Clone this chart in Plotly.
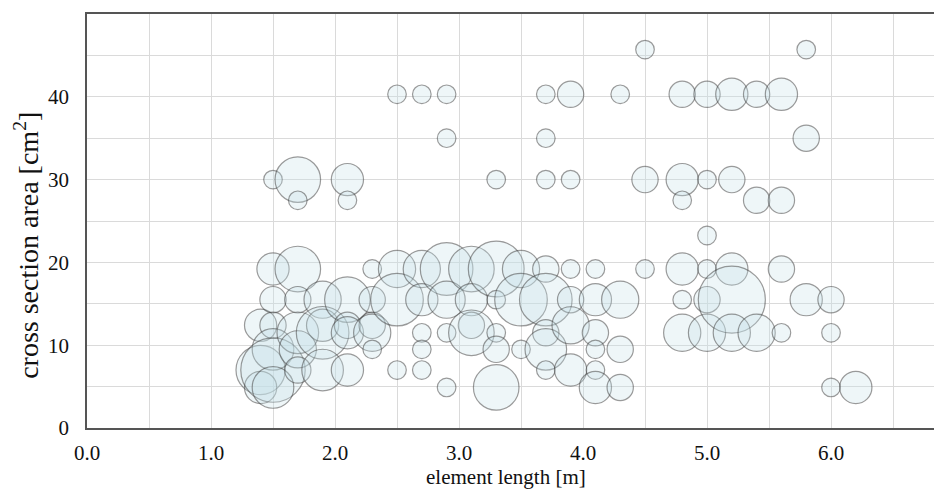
import plotly.graph_objects as go

# element length [m]
length = [
    1.4, 1.4, 1.4,
    1.5, 1.5, 1.5, 1.5, 1.5, 1.5, 1.5,
    1.7, 1.7, 1.7, 1.7, 1.7, 1.7, 1.7,
    1.9, 1.9, 1.9, 1.9,
    2.1, 2.1, 2.1, 2.1, 2.1, 2.1,
    2.3, 2.3, 2.3, 2.3, 2.3,
    2.5, 2.5, 2.5, 2.5,
    2.7, 2.7, 2.7, 2.7, 2.7, 2.7,
    2.9, 2.9, 2.9, 2.9, 2.9, 2.9,
    3.1, 3.1, 3.1, 3.1,
    3.3, 3.3, 3.3, 3.3, 3.3, 3.3,
    3.5, 3.5, 3.5,
    3.7, 3.7, 3.7, 3.7, 3.7, 3.7, 3.7, 3.7,
    3.9, 3.9, 3.9, 3.9, 3.9, 3.9,
    4.1, 4.1, 4.1, 4.1, 4.1, 4.1,
    4.3, 4.3, 4.3, 4.3,
    4.5, 4.5, 4.5,
    4.8, 4.8, 4.8, 4.8, 4.8, 4.8,
    5.0, 5.0, 5.0, 5.0, 5.0, 5.0,
    5.2, 5.2, 5.2, 5.2, 5.2,
    5.4, 5.4, 5.4,
    5.6, 5.6, 5.6, 5.6,
    5.8, 5.8, 5.8,
    6.0, 6.0, 6.0,
    6.2,
]

# cross section area [cm2]
area = [
    12.4, 7.0, 4.9,
    30.0, 19.2, 15.5, 12.4, 9.5, 7.0, 4.9,
    30.0, 27.5, 19.2, 15.5, 11.5, 9.5, 7.0,
    15.5, 12.4, 11.5, 7.0,
    30.0, 27.5, 15.5, 12.4, 11.5, 7.0,
    19.2, 15.5, 12.4, 11.5, 9.5,
    40.3, 19.2, 15.5, 7.0,
    40.3, 19.2, 15.5, 11.5, 9.5, 7.0,
    40.3, 35.0, 19.2, 15.5, 11.5, 4.9,
    19.2, 15.5, 12.4, 11.5,
    30.0, 19.2, 15.5, 11.5, 9.5, 4.9,
    19.2, 15.5, 9.5,
    40.3, 35.0, 30.0, 19.2, 15.5, 11.5, 9.5, 7.0,
    40.3, 30.0, 19.2, 15.5, 12.4, 7.0,
    19.2, 15.5, 11.5, 9.5, 7.0, 4.9,
    40.3, 15.5, 9.5, 4.9,
    45.7, 30.0, 19.2,
    40.3, 30.0, 27.5, 19.2, 15.5, 11.5,
    40.3, 30.0, 23.25, 19.2, 15.5, 11.5,
    40.3, 30.0, 19.2, 15.5, 11.5,
    40.3, 27.5, 11.5,
    40.3, 27.5, 19.2, 11.5,
    45.7, 35.0, 15.5,
    15.5, 11.5, 4.9,
    4.9,
]

# number of elements (bubble size)
count = [
    3, 7, 3,
    1, 3, 2, 2, 5, 12, 5,
    6, 1, 6, 2, 5, 4, 2,
    4, 3, 8, 5,
    3, 1, 6, 2, 3, 3,
    1, 2, 2, 4, 1,
    1, 4, 8, 1,
    1, 4, 3, 1, 1, 1,
    1, 1, 8, 4, 1, 1,
    6, 3, 2, 6,
    1, 9, 1, 1, 2, 6,
    4, 8, 1,
    1, 1, 1, 2, 8, 2, 5, 1,
    2, 1, 1, 2, 4, 3,
    1, 3, 2, 1, 1, 3,
    1, 4, 2, 2,
    1, 2, 1,
    2, 3, 1, 3, 1, 4,
    2, 1, 1, 1, 2, 4,
    3, 2, 3, 13, 4,
    2, 2, 4,
    3, 2, 2, 1,
    1, 2, 3,
    2, 1, 1,
    3,
]

x_ticks = [0, 1, 2, 3, 4, 5, 6]
y_ticks = [0, 10, 20, 30, 40]
x_title = "element length [m]"
y_title = "cross section area [cm<sup>2</sup>]"

FONT = "Liberation Serif, Times New Roman, serif"

fig = go.Figure()
fig.add_trace(go.Scatter(
    x=length, y=area, mode="markers",
    marker=dict(
        size=count, sizemode="area", sizeref=2 / (18.6 ** 2),
        color="rgba(198,226,233,0.4)",
        line=dict(color="rgba(65,65,65,0.75)", width=1.2),
    ),
    hoverinfo="x+y",
    showlegend=False,
))

grid = "#dadada"
# the page body has an 8px margin, so the figure is sized to fit inside it
fig.update_layout(
    width=934, height=484,
    margin=dict(l=79, r=0, t=6, b=64, autoexpand=False),
    paper_bgcolor="white", plot_bgcolor="white",
    font=dict(family=FONT, size=17, color="#111"),
)
fig.update_xaxes(
    range=[0, 6.895], tickvals=x_ticks, tickformat=".1f",
    tickfont=dict(size=21),
    showgrid=True, gridcolor=grid, gridwidth=1,
    minor=dict(dtick=0.5, showgrid=True, gridcolor=grid, gridwidth=1),
    showline=True, linecolor="#555", linewidth=1.5, mirror=True,
    ticks="", ticklabelstandoff=5, zeroline=False, automargin=False,
)
fig.update_yaxes(
    range=[0, 50], tickvals=y_ticks,
    tickfont=dict(size=21),
    showgrid=True, gridcolor=grid, gridwidth=1,
    minor=dict(dtick=5, showgrid=True, gridcolor=grid, gridwidth=1),
    showline=True, linecolor="#555", linewidth=1.5,
    ticks="", ticklabelstandoff=12, zeroline=False, automargin=False,
)
fig.add_annotation(
    text=x_title, xref="paper", yref="paper", x=0.49, y=0, yshift=-49,
    showarrow=False, font=dict(size=21), xanchor="center", yanchor="middle",
)
fig.add_annotation(
    text=y_title, xref="paper", yref="paper", x=0, xshift=-60, y=0.44,
    showarrow=False, font=dict(size=28), textangle=-90,
    xanchor="center", yanchor="middle",
)

fig.write_html("out.html")
